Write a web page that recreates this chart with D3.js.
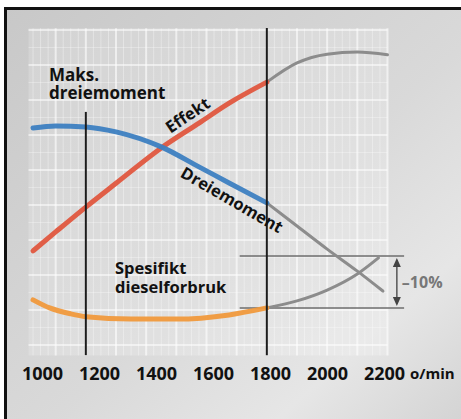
<!DOCTYPE html>
<html>
<head>
<meta charset="utf-8">
<script src="https://cdn.jsdelivr.net/npm/d3@7"></script>
<style>
  html, body { margin: 0; padding: 0; background: #fff; }
  svg { display: block; font-family: "Open Sans", "Liberation Sans", sans-serif; }
</style>
</head>
<body>
<svg id="chart" width="461" height="419"></svg>
<script>
// rpm ticks on the x axis
const rpmTicks = [1000, 1200, 1400, 1600, 1800, 2000, 2200];

// power (Effekt), coloured part and grey continuation
const effektRpm = [1025, 1100, 1200, 1300, 1450, 1575, 1675, 1800];
const effektVal = [36.9, 42.3, 49.4, 56.2, 66.3, 73.4, 79.1, 85.1];
const effektOverRpm = [1800, 1900, 2000, 2100, 2200];
const effektOverVal = [85.1, 90.6, 93.1, 93.7, 92.9];

// torque (Dreiemoment)
const torqueRpm = [1025, 1100, 1200, 1300, 1450, 1575, 1675, 1800];
const torqueVal = [72.0, 72.6, 72.3, 70.9, 66.6, 60.9, 56.3, 50.6];
const torqueOverRpm = [1800, 1900, 2000, 2100, 2185];
const torqueOverVal = [50.6, 44.0, 37.4, 31.1, 25.4];

// specific fuel consumption
const fuelRpm = [1025, 1080, 1150, 1200, 1350, 1500, 1675, 1800];
const fuelVal = [22.9, 20.6, 18.9, 18.1, 17.4, 17.4, 18.6, 20.6];
const fuelOverRpm = [1800, 1900, 2000, 2100, 2170];
const fuelOverVal = [20.6, 22.6, 25.7, 30.3, 34.9];

// vertical marker lines (rpm, top value)
const markerRpm = [1200, 1800];
const markerTop = [76.6, 100.6];
const markerBottom = 7.1;

// -10% band
const bandVal = [20.6, 35.4];
const bandRpm = [1710, 2255];
const arrowRpm = 2231;

const svg = d3.select("#chart");
const W = 461, H = 419;

const x = d3.scaleLinear().domain([1000, 2200]).range([25.5, 387.5]);
const xLabel = d3.scaleLinear().domain([1000, 2200]).range([42, 384]);
const y = d3.scaleLinear().domain([0, 100]).range([380, 30]);

const defs = svg.append("defs");
const bg = defs.append("linearGradient").attr("id", "bg")
  .attr("x1", "0%").attr("y1", "0%").attr("x2", "100%").attr("y2", "100%");
bg.append("stop").attr("offset", "0%").attr("stop-color", "#c8c8c8");
bg.append("stop").attr("offset", "55%").attr("stop-color", "#d9d9d9");
bg.append("stop").attr("offset", "80%").attr("stop-color", "#e6e6e6");
bg.append("stop").attr("offset", "100%").attr("stop-color", "#d4d4d4");

svg.append("rect").attr("x", 4).attr("y", 7).attr("width", W - 4).attr("height", H - 7)
  .attr("fill", "url(#bg)");

// frame (top and left only)
svg.append("rect").attr("x", 4).attr("y", 7).attr("width", W - 4).attr("height", 3).attr("fill", "#111");
svg.append("rect").attr("x", 4).attr("y", 7).attr("width", 3).attr("height", H - 7).attr("fill", "#111");

// grid
const grid = svg.append("g");
grid.append("rect")
  .attr("x", x(1010)).attr("y", y(100.5))
  .attr("width", x(2200) - x(1010)).attr("height", y(7) - y(100.5))
  .attr("fill", "#fff").attr("opacity", 0.18);
grid.selectAll("line.v").data(d3.range(1025, 2201, 25)).enter().append("line")
  .attr("x1", d => x(d)).attr("x2", d => x(d))
  .attr("y1", y(100.5)).attr("y2", y(7))
  .attr("stroke", "#fff").attr("stroke-width", d => d % 100 === 0 ? 2 : 1)
  .attr("opacity", d => d % 100 === 0 ? 0.6 : 0.35);
grid.selectAll("line.h").data(d3.range(10, 101, 5)).enter().append("line")
  .attr("x1", x(1010)).attr("x2", x(2200))
  .attr("y1", d => y(d)).attr("y2", d => y(d))
  .attr("stroke", "#fff").attr("stroke-width", d => d % 10 === 0 ? 2 : 1)
  .attr("opacity", d => d % 10 === 0 ? 0.55 : 0.3);

const line = d3.line().x(d => x(d[0])).y(d => y(d[1])).curve(d3.curveMonotoneX);
const pairs = (a, b) => a.map((v, i) => [v, b[i]]);

// band lines
svg.selectAll("line.band").data(bandVal).enter().append("line")
  .attr("x1", x(bandRpm[0])).attr("x2", x(bandRpm[1]))
  .attr("y1", d => y(d)).attr("y2", d => y(d))
  .attr("stroke", "#6e6e6e").attr("stroke-width", 1.5);

// grey continuations
[[effektOverRpm, effektOverVal], [torqueOverRpm, torqueOverVal], [fuelOverRpm, fuelOverVal]]
  .forEach(([r, v]) => {
    svg.append("path").attr("d", line(pairs(r, v)))
      .attr("fill", "none").attr("stroke", "#8c8c8c").attr("stroke-width", 3)
      .attr("stroke-linecap", "round");
  });

// coloured curves
const series = [
  [effektRpm, effektVal, "#e0573f"],
  [torqueRpm, torqueVal, "#3d7fc1"],
  [fuelRpm, fuelVal, "#f0993c"]
];
series.forEach(([r, v, c]) => {
  svg.append("path").attr("d", line(pairs(r, v)))
    .attr("fill", "none").attr("stroke", c).attr("stroke-width", 5)
    .attr("stroke-linecap", "round").attr("opacity", 0.95);
});

// vertical markers
svg.selectAll("line.marker").data(markerRpm).enter().append("line")
  .attr("x1", d => x(d)).attr("x2", d => x(d))
  .attr("y1", (d, i) => y(markerTop[i])).attr("y2", y(markerBottom))
  .attr("stroke", "#1c1c1c").attr("stroke-width", 2);

// double arrow
const ax = x(arrowRpm);
svg.append("line").attr("x1", ax).attr("x2", ax)
  .attr("y1", y(bandVal[1]) + 4).attr("y2", y(bandVal[0]) - 4)
  .attr("stroke", "#555").attr("stroke-width", 1.5);
svg.append("path")
  .attr("d", `M${ax},${y(bandVal[1]) + 2} l-4,9 l8,0 Z M${ax},${y(bandVal[0]) - 2} l-4,-9 l8,0 Z`)
  .attr("fill", "#444");
svg.append("text").attr("x", ax + 5).attr("y", (y(bandVal[0]) + y(bandVal[1])) / 2 + 6)
  .attr("font-size", 16).attr("font-weight", 700).attr("fill", "#777")
  .text("–10%");

// labels
function label(lines, px, py, size, lh) {
  const t = svg.append("text").attr("x", px).attr("y", py)
    .attr("font-size", size).attr("font-weight", 700).attr("fill", "#111");
  lines.forEach((s, i) => t.append("tspan").attr("x", px).attr("dy", i ? lh : 0).text(s));
}
label(["Maks.", "dreiemoment"], 49, 81, 17, 18);
label(["Spesifikt", "dieselforbruk"], 115, 274, 16.5, 19);

svg.append("text").attr("transform", "translate(191,120) rotate(-34)")
  .attr("text-anchor", "middle").attr("font-size", 16.5).attr("font-weight", 700)
  .attr("fill", "#111").text("Effekt");
svg.append("text").attr("transform", "translate(229,205) rotate(30)")
  .attr("text-anchor", "middle").attr("font-size", 16.5).attr("font-weight", 700)
  .attr("fill", "#111").text("Dreiemoment");

// x axis
const axis = svg.append("g").attr("transform", "translate(0,380)")
  .call(d3.axisBottom(xLabel).tickValues(rpmTicks).tickSize(0).tickFormat(d3.format("d")));
axis.select(".domain").remove();
axis.selectAll("text").attr("dy", 0).attr("y", 0)
  .attr("font-size", 18).attr("font-weight", 700).attr("fill", "#111")
  .attr("font-family", "'Open Sans', sans-serif");
svg.append("text").attr("x", 410).attr("y", 379)
  .attr("font-size", 15).attr("font-weight", 700).attr("fill", "#111").text("o/min");
</script>
</body>
</html>
